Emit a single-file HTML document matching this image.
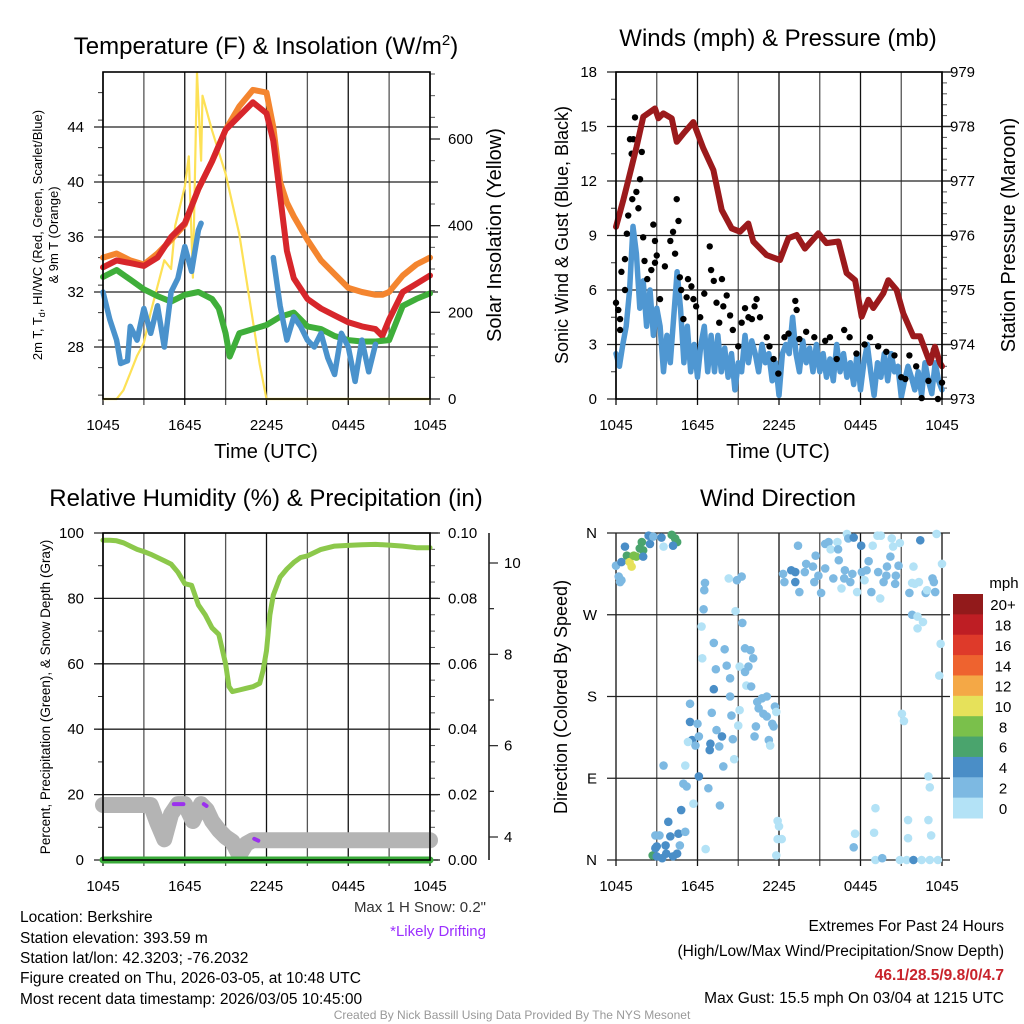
<!DOCTYPE html>
<html><head><meta charset="utf-8"><style>
html,body{margin:0;padding:0;background:#fff}
svg{display:block;font-family:"Liberation Sans",Arial,sans-serif}
</style></head><body>
<svg id="fig" width="1024" height="1024" viewBox="0 0 1024 1024" xmlns="http://www.w3.org/2000/svg">
<rect width="1024" height="1024" fill="#fff"/>
<text x="266" y="54" font-size="24" text-anchor="middle">Temperature (F) &amp; Insolation (W/m<tspan dy="-9" font-size="15">2</tspan><tspan dy="9">)</tspan></text>
<text x="778" y="46" font-size="24" text-anchor="middle">Winds (mph) &amp; Pressure (mb)</text>
<text x="266" y="506" font-size="24" text-anchor="middle">Relative Humidity (%) &amp; Precipitation (in)</text>
<text x="778" y="506" font-size="24" text-anchor="middle">Wind Direction</text>

<text transform="translate(42,235) rotate(-90)" font-size="13" text-anchor="middle">2m T, T<tspan font-size="9" dy="3">d</tspan><tspan dy="-3">, HI/WC (Red, Green, Scarlet/Blue)</tspan></text>
<text transform="translate(58,235) rotate(-90)" font-size="13" text-anchor="middle">&amp; 9m T (Orange)</text>
<text transform="translate(501,235) rotate(-90)" font-size="20" text-anchor="middle">Solar Insolation (Yellow)</text>
<text x="266" y="458" font-size="20" text-anchor="middle">Time (UTC)</text>

<text transform="translate(568,235) rotate(-90)" font-size="18" text-anchor="middle">Sonic Wind &amp; Gust (Blue, Black)</text>
<text transform="translate(1015,235) rotate(-90)" font-size="20" text-anchor="middle">Station Pressure (Maroon)</text>
<text x="778" y="458" font-size="20" text-anchor="middle">Time (UTC)</text>

<text transform="translate(50,697) rotate(-90)" font-size="13.5" text-anchor="middle">Percent, Precipitation (Green), &amp; Snow Depth (Gray)</text>
<text transform="translate(567,697) rotate(-90)" font-size="18" text-anchor="middle">Direction (Colored By Speed)</text>
<text x="1004" y="588" font-size="15" text-anchor="middle">mph</text>

<text x="486" y="912" font-size="15" text-anchor="end" fill="#333">Max 1 H Snow: 0.2"</text>
<text x="486" y="936" font-size="15" text-anchor="end" fill="#9b30ff">*Likely Drifting</text>
<g font-size="15.5">
<text x="20" y="922">Location: Berkshire</text>
<text x="20" y="943">Station elevation: 393.59 m</text>
<text x="20" y="963">Station lat/lon: 42.3203; -76.2032</text>
<text x="20" y="983">Figure created on Thu, 2026-03-05, at 10:48 UTC</text>
<text x="20" y="1004">Most recent data timestamp: 2026/03/05 10:45:00</text>
</g>
<g font-size="15.5" text-anchor="end">
<text x="1004" y="931">Extremes For Past 24 Hours</text>
<text x="1004" y="956">(High/Low/Max Wind/Precipitation/Snow Depth)</text>
<text x="1004" y="980" fill="#c8232b" font-weight="bold">46.1/28.5/9.8/0/4.7</text>
<text x="1004" y="1003">Max Gust: 15.5 mph On 03/04 at 1215 UTC</text>
</g>
<text x="512" y="1019" font-size="12" text-anchor="middle" fill="#999">Created By Nick Bassill Using Data Provided By The NYS Mesonet</text>
</svg>
<script>
// ---------- data ----------
const timeLabels = ["1045","1645","2245","0445","1045"];
const tempHours = [0,1,2,3,4,5,6,7,8,9,10,11,12,12.5,13,13.5,14,15,16,17,18,19,20,20.5,21,22,23,24];
const redT =    [33.8,34.3,34.1,33.9,34.5,36.0,37.0,39.5,41.5,43.8,44.8,45.8,45.0,43.0,39.0,35.0,33.0,31.5,30.8,30.3,29.8,29.5,29.3,28.8,30.0,32.0,32.6,33.2];
const orangeT = [34.5,34.8,34.3,34.0,34.8,35.8,36.9,39.5,41.5,43.8,45.5,46.7,46.5,44.0,40.0,38.5,37.5,35.8,34.3,33.3,32.3,32.0,31.8,31.8,32.0,33.2,34.0,34.5];
const greenHours = [0,1,2,3,4,5,6,7,8,8.5,9,9.3,10,11,12,13,14,15,16,17,18,19,20,21,22,23,24];
const greenTd = [33.1,33.6,32.9,32.2,31.7,31.3,31.8,32.0,31.5,30.8,29.0,27.3,29.0,29.3,29.6,30.2,30.5,29.5,29.3,28.8,28.5,28.4,28.4,28.5,31.0,31.5,31.9];
const blueHours = [0,0.5,1,1.3,1.8,2,2.5,3,3.5,4,4.5,5,5.5,6,6.5,7,7.2,7.3,12.4,12.5,13,13.5,14,14.5,15,15.5,16,16.5,17,17.5,18,18.5,19,19.5,20];
const blueWC =  [32,30,28.5,26.8,27,29.5,28.5,30.8,29,31,28,32,33,35.3,33.5,36.5,37,null,null,34.5,31,28.5,30.2,29.5,28.5,28,29,27.2,26,29,28,25.5,28.5,26.2,28.2];
const solHours = [0,1,1.5,2,2.5,3,3.5,4,4.5,5,5.3,6,6.3,6.6,6.9,7.2,7.3,8,9,10,11,11.5,12,24];
const solVals =  [0,0,20,60,100,130,200,260,320,300,400,490,560,280,754,550,700,620,520,380,180,80,0,0];

const presHours = [0,0.54,1.03,1.52,2.01,2.87,3.12,3.48,4.1,4.47,4.96,5.69,6.43,7.17,7.78,8.52,9.13,9.74,10.11,11.09,12.07,12.69,13.3,13.91,14.9,15.5,16.37,16.98,17.6,18.09,18.58,18.94,19.68,20.05,20.66,21.15,21.89,22.38,23.12,23.48,23.85,24];
const presVals =  [976.16,976.65,977.14,977.63,978.18,978.33,978.15,978.24,978.15,977.72,977.87,978.08,977.6,977.2,976.47,976.13,976.07,976.22,975.89,975.64,975.55,975.95,976.01,975.76,976.04,975.86,975.89,975.31,975.18,974.51,974.82,974.67,974.94,975.18,975.0,974.57,974.15,974.15,973.66,973.96,973.66,973.6];
const windVals = [2.5,1.8,3,4,6,9.5,8,5,6.5,4,6,3.5,5,4,1.5,3.5,2,4.5,7,5,2,4,1.5,3,1.2,3,4,1.5,3.5,1.5,3.5,1.5,2.8,1.2,2.5,0.5,2,1.5,3.5,2,3.2,2.5,1.5,3,2,2.5,1,2,0.2,2.5,3,2.5,4.5,2.5,1.5,3.2,2,2.8,1.5,3,1.5,2.5,1.2,2.2,1,3,1.5,2.5,1.2,2,0.8,2.5,0.5,2,3,1.5,0.2,2,1.2,2.5,1,2.5,1.5,1.8,0.1,1,1.8,1.2,0.5,1.5,0.2,2,1,0.3,2,1,0.5];
const gustHours = [0,0.17,0.3,0.3,0.4,0.66,0.66,0.8,0.9,1.03,1.15,1.28,1.2,1.4,1.5,1.65,1.77,1.9,2.0,2.1,2.3,2.6,2.75,2.87,2.87,3.0,3.24,3.6,4.0,4.2,4.35,4.47,4.6,4.7,4.8,4.96,5.2,5.3,5.55,5.7,5.9,6.2,6.5,6.9,7.0,7.2,7.4,7.6,7.8,7.9,8.15,8.4,8.6,9.0,9.25,9.5,9.75,10,10.2,10.35,10.6,11.1,11.3,11.6,11.95,12.4,12.7,13.2,13.3,13.5,14,14.6,15.4,15.75,16.25,16.8,17.2,17.7,18.3,18.7,19.3,19.9,20.5,21,21.3,21.6,22.1,22.5,23,23.4,23.7,24];
const gustVals = [5.3,4.9,4.4,3.8,7.0,6.0,7.7,9.1,10.1,14.3,13.5,14.3,11.0,15.5,11.4,10.5,12.1,13.6,8.9,7.6,6.6,7.1,9.6,8.7,7.5,7.9,5.5,7.3,8.7,9.2,8.0,11.0,9.8,6.7,6.0,4.4,5.6,6.6,6.2,5.5,5.1,4.5,5.8,8.4,7.1,6.5,5.3,4.2,6.6,5.1,5.7,4.6,3.8,2.9,4.2,5.0,4.5,4.4,5.1,5.5,4.5,3.4,2.9,2.2,1.4,3.4,3.6,5.4,4.9,3.3,3.7,3.4,3.2,3.4,2.2,3.8,3.4,2.5,3.0,3.4,2.9,2.6,2.4,1.2,1.1,2.4,1.8,0.05,1.0,2.7,0.0,0.9];

const rhHours = [0,0.5,1,1.5,2,2.5,3,3.5,4,4.5,5,5.5,6,6.5,7,7.5,8,8.5,9,9.25,9.5,10,10.5,11,11.5,11.75,12,12.25,12.5,13,13.5,14,14.5,15,15.5,16,17,18,19,20,21,22,23,24];
const rhVals =  [97.8,97.8,97.6,97,96,95,94.3,93.5,92.5,91.5,90.5,88,84.5,84,78,75,71,69,60,53,51.5,52,52.5,53,54,58,64,75,81,86.5,89,91,92.5,93,94,95,96,96.2,96.4,96.5,96.3,96,95.5,95.5];
const snowHours = [0,3.5,4.0,4.5,5.0,5.5,6.0,6.6,7.2,7.6,8.0,8.5,9.0,9.5,10.0,10.5,11.0,24];
const snowVals =  [4.7,4.7,4.3,3.95,4.5,4.72,4.72,4.35,4.72,4.6,4.35,4.15,4.0,3.9,3.6,3.85,3.93,3.93];
const driftHours = [5.2,5.9,7.4,7.6,11.1,11.4];
const driftVals  = [4.72,4.72,4.72,4.68,3.96,3.92];
const precipHours = [0,24];
const precipVals = [0,0];

const dirHours = [0.0,0.2,0.3,0.4,0.4,0.66,0.8,1.0,1.15,1.3,1.5,1.75,1.9,2.0,2.0,2.4,2.5,2.75,3.35,3.5,4.1,4.35,4.5,4.2,
2.7,2.9,3,3,2.9,3.2,3.4,3.65,3.7,4,3.85,4.2,4.5,4.6,4.7,4.8,5.1,5.2,4.96,5.7,3.5,5.1,6.1,6.8,7.65,6.6,
5.45,5.45,5.6,5.85,5.3,6.1,6,6.3,6.45,6.5,6.55,6.35,7.2,7.35,7.2,7.05,7.4,6.95,6.9,7.6,7.8,7.9,8,8.15,8.4,8.4,8.5,8.6,8.7,8.3,8.9,9.25,8.8,9.3,9.5,9.9,9.1,9.5,9.75,9.6,9.95,10.1,9.1,9,10.4,10.5,10.75,11.1,10.85,11.1,11.5,11.6,11.7,11.8,10.3,10.2,11.25,11.35,11.9,12,11.9,12.2,11.8,
12.3,12.4,12.9,13.2,13.2,13.5,13.4,13.9,14,14.5,14.6,14.7,14.9,15.1,15.4,15.4,15.65,15.8,16,16.3,16.35,16.4,16.6,16.8,16.85,17,17.1,17.25,17.4,17.5,17.75,18.05,18.1,18.3,18.45,18.6,18.8,18.9,19.25,19.3,19.45,19.5,19.7,19.9,19.95,20.2,20.3,20.4,20.55,20.6,20.8,20.9,21.6,21.8,21.9,22,22.3,22.4,22.8,22.9,23.3,23.4,23.5,23.6,24,
21.8,22.2,22.2,22.6,23.9,23.8,21.05,21.2,23,23.1,21.5,23,21.5,23.2,19.1,19,17.6,17.5,19.1,19.6,20.9,21.4,21.9,22.5,23.1,23.7];
const dirDegs = [324,312,306,308,328,345,335,328,323,335,334,343,350,341,334,357,348,356,355,345,358,354,350,346,
5,13,4,15,27,27,2,16,7,26,42,4,7,29,16,55,31,81,84,62,104,104,92,79,60,12,
172,152,132,126,130,136,150,257,276,297,305,222,239,210,188,162,143,128,121,125,136,103,232,214,200,180,159,133,111,310,308,312,274,261,233,231,213,207,213,192,191,222,165,148,174,167,178,180,161,158,150,147,169,163,147,136,132,126,43,37,23,23,5,
315,306,319,317,306,295,346,317,326,323,306,335,313,294,321,348,350,342,310,350,342,330,299,310,319,359,354,306,315,355,295,346,317,308,319,329,295,346,357,317,288,357,306,313,323,334,354,345,304,313,324,349,294,305,323,304,306,352,294,297,310,306,295,359,326,
270,268,255,262,238,203,161,153,92,80,44,44,24,27,57,30,29,14,0,2,0,0,0,0,0,0];
const dirSpeeds = [3,3,3,3,5,5,7,11,11,9,9,7,7,7,5,5,5,3,5,1,7,7,7,5,
7,5,5,5,3,3,5,5,5,5,5,5,5,5,3,5,3,3,3,1,3,1,5,3,3,1,
3,5,5,3,1,3,3,1,3,3,3,1,3,3,5,3,3,5,5,3,5,3,3,3,3,3,3,3,1,1,3,3,1,3,3,3,1,3,3,1,3,3,1,1,3,3,3,3,3,3,3,3,3,1,3,3,3,1,1,1,1,1,1,
3,3,5,5,5,3,3,3,3,3,3,3,3,3,3,3,3,1,3,1,3,3,1,3,3,1,3,3,3,5,1,5,3,1,3,3,3,1,1,3,1,1,3,3,3,3,1,1,3,3,3,1,3,1,1,1,1,5,3,1,3,3,3,1,1,
3,1,1,1,1,1,1,1,1,1,1,1,1,1,1,1,1,3,1,3,1,1,5,1,1,1];
const speedBins = ["0","2","4","6","8","10","12","14","16","18","20+"];
const binColors = ["#b3e2f6","#7db9e2","#4a8ec7","#4aa46d","#7ac04b","#e6e15a","#f4a846","#ee632f","#de3a2a","#be1e24","#921a1b"];

const tempTicks = [28,32,36,40,44];
const solTicks = [0,200,400,600];
const windTicks = [0,3,6,9,12,15,18];
const presTicks = [973,974,975,976,977,978,979];
const rhTicks = [0,20,40,60,80,100];
const precipTicks = ["0.00","0.02","0.04","0.06","0.08","0.10"];
const snowTicks = [4,6,8,10];
const dirTicks = [0,90,180,270,360];
const dirLabels = ["N","E","S","W","N"];

// ---------- helpers ----------
const svg = document.getElementById('fig');
const NS = 'http://www.w3.org/2000/svg';
function mk(tag, attrs, parent){const e=document.createElementNS(NS,tag);for(const k in attrs)e.setAttribute(k,attrs[k]);(parent||svg).appendChild(e);return e;}
const P = {
  tl:{x0:103,x1:430,y0:72,y1:399},
  tr:{x0:616,x1:942,y0:72,y1:399},
  bl:{x0:103,x1:430,y0:533,y1:860},
  br:{x0:616,x1:942,y0:533,y1:860}
};
function xOf(p,h){return p.x0+h/24*(p.x1-p.x0);}
function lin(d0,d1,r0,r1){return v=>r0+(v-d0)/(d1-d0)*(r1-r0);}
const yTemp = lin(44,28,127,347);
const ySol = lin(0,600,399,139);
const yWind = lin(0,18,399,72);
const yPres = lin(973,979,399,72);
const yRH = lin(0,100,860,533);
const yPrecip = lin(0,0.1,860,533);
const ySnow = lin(4,10,837,563);
const yDir = lin(0,360,860,533);

function pathOf(p,hs,vs,ys){let d='',pen=false;for(let i=0;i<hs.length;i++){if(vs[i]===null){pen=false;continue;}d+=(pen?'L':'M')+xOf(p,hs[i]).toFixed(1)+','+ys(vs[i]).toFixed(1);pen=true;}return d;}

function frame(key,name){
  const p=P[key];
  const g=mk('g',{});
  
  
  for(let i=0;i<=8;i++){
    const x=xOf(p,i*3);
    const l=mk('line',{x1:x,y1:p.y0,x2:x,y2:p.y1+6,stroke:(i%2?'#555':'#111'),'stroke-width':1.3},g);
    
    
  }
  timeLabels.forEach((t,i)=>{
    const tx=mk('text',{x:xOf(p,i*6),y:p.y1+31,'font-size':15,'text-anchor':'middle'},g);
    tx.textContent=t;
    
    
  });
  return g;
}
function hgrid(key,name,ys,ticks,labels,minorStep,lo,hi){
  const p=P[key];
  const g=mk('g',{});
  
  
  for(let v=lo; v<=hi+1e-9; v+=minorStep){
    const y=ys(v);
    const m=mk('line',{x1:p.x0-5,y1:y,x2:p.x0,y2:y,stroke:'#333','stroke-width':1},g);
    
    
  }
  ticks.forEach((v,i)=>{
    const y=ys(v);
    const l=mk('line',{x1:p.x0-9,y1:y,x2:p.x1+8,y2:y,stroke:'#222','stroke-width':1.3},g);
    
    
    const t=mk('text',{x:p.x0-19,y:y+5,'font-size':15,'text-anchor':'end'},g);
    t.textContent=labels?labels[i]:v;
    
    
  });
}
function rightAxis(key,name,ys,ticks,labels,minorStep,lo,hi,x){
  const p=P[key];
  const g=mk('g',{});
  
  
  for(let v=lo; v<=hi+1e-9; v+=minorStep){
    const y=ys(v);
    const m=mk('line',{x1:p.x1,y1:y,x2:p.x1+5,y2:y,stroke:'#555','stroke-width':1},g);
    
    
  }
  ticks.forEach((v,i)=>{
    const y=ys(v);
    const l=mk('line',{x1:p.x1,y1:y,x2:p.x1+10,y2:y,stroke:'#222','stroke-width':1.3},g);
    
    
    const t=mk('text',{x:x,y:y+5,'font-size':15},g);
    t.textContent=labels?labels[i]:v;
    
    
  });
}
function border(key,name){
  const p=P[key];
  const r=mk('rect',{x:p.x0,y:p.y0,width:p.x1-p.x0,height:p.y1-p.y0,fill:'none',stroke:'#000','stroke-width':1.6});
  
  
}

// ---------- temperature panel ----------
frame('tl','temperature');
hgrid('tl','temperature',yTemp,tempTicks,null,2,24.5,48);
rightAxis('tl','insolation',ySol,solTicks,null,50,0,750,448);
let e;
e=mk('path',{d:pathOf(P.tl,solHours,solVals,ySol),fill:'none',stroke:'#fde156','stroke-width':2.2,'stroke-linejoin':'round'});


e=mk('path',{d:pathOf(P.tl,tempHours,orangeT,yTemp),fill:'none',stroke:'#f4852f','stroke-width':6,'stroke-linejoin':'round','stroke-linecap':'round'});


e=mk('path',{d:pathOf(P.tl,tempHours,redT,yTemp),fill:'none',stroke:'#d7262b','stroke-width':6,'stroke-linejoin':'round','stroke-linecap':'round'});


e=mk('path',{d:pathOf(P.tl,greenHours,greenTd,yTemp),fill:'none',stroke:'#3fae3a','stroke-width':6,'stroke-linejoin':'round','stroke-linecap':'round'});


e=mk('path',{d:pathOf(P.tl,blueHours,blueWC,yTemp),fill:'none',stroke:'#4a92cc','stroke-width':5.5,'stroke-linejoin':'round','stroke-linecap':'round'});


border('tl','temperature');

// ---------- wind panel ----------
frame('tr','wind');
hgrid('tr','wind',yWind,windTicks,null,1.5,0,18);
rightAxis('tr','pressure',yPres,presTicks,null,0.2,973,979,950);
const windHours = windVals.map((v,i)=>i*0.25);
e=mk('path',{d:pathOf(P.tr,windHours,windVals,yWind),fill:'none',stroke:'#4f97d2','stroke-width':5.5,'stroke-linejoin':'round','stroke-linecap':'round'});


const gg=mk('g',{});


gustHours.forEach((h,i)=>{
  const c=mk('circle',{cx:xOf(P.tr,h),cy:yWind(gustVals[i]),r:3.2,fill:'#000'},gg);
  
  
});
e=mk('path',{d:pathOf(P.tr,presHours,presVals,yPres),fill:'none',stroke:'#9b1a1c','stroke-width':6,'stroke-linejoin':'round','stroke-linecap':'round'});


border('tr','wind');

// ---------- humidity panel ----------
frame('bl','humidity');
hgrid('bl','humidity',yRH,rhTicks,null,10,0,100);
rightAxis('bl','precip',yPrecip,[0,0.02,0.04,0.06,0.08,0.1],precipTicks,0.005,0,0.1,448);
e=mk('line',{x1:489,y1:533,x2:489,y2:860,stroke:'#222','stroke-width':1.6});


for(let v=4; v<=10; v+=1){
  e=mk('line',{x1:489,y1:ySnow(v),x2:(v%2?494:498),y2:ySnow(v),stroke:'#222','stroke-width':1.2});
  
  
}
snowTicks.forEach(v=>{
  const t=mk('text',{x:504,y:ySnow(v)+5,'font-size':15});
  t.textContent=v;
  
  
});
e=mk('path',{d:pathOf(P.bl,snowHours,snowVals,ySnow),fill:'none',stroke:'#b4b4b4','stroke-width':16,'stroke-linejoin':'round','stroke-linecap':'round'});


for(let i=0;i<driftHours.length;i+=2){
  e=mk('line',{x1:xOf(P.bl,driftHours[i]),y1:ySnow(driftVals[i]),x2:xOf(P.bl,driftHours[i+1]),y2:ySnow(driftVals[i+1]),stroke:'#9b30ee','stroke-width':4,'stroke-linecap':'round'});
  
  
}
e=mk('path',{d:pathOf(P.bl,rhHours,rhVals,yRH),fill:'none',stroke:'#8cc84b','stroke-width':5,'stroke-linejoin':'round','stroke-linecap':'round'});


e=mk('path',{d:pathOf(P.bl,precipHours,precipVals,yPrecip),fill:'none',stroke:'#3aaa3a','stroke-width':7,'stroke-linecap':'round'});


border('bl','humidity');

// ---------- wind direction panel ----------
frame('br','direction');
hgrid('br','direction',yDir,dirTicks,dirLabels,1000,0,0);
const dg=mk('g',{});


dirHours.forEach((h,i)=>{
  const b=Math.min(10,Math.floor(dirSpeeds[i]/2));
  const c=mk('circle',{cx:xOf(P.br,h),cy:yDir(dirDegs[i]),r:4.3,fill:binColors[b]},dg);
  
  
});
const cb=mk('g',{});


const cbTop=594, cbH=224/11;
speedBins.forEach((lab,i)=>{
  const k=10-i;
  const y=cbTop+i*cbH;
  const r=mk('rect',{x:953,y:y,width:30,height:cbH+0.5,fill:binColors[k]},cb);
  
  
  const t=mk('text',{x:1003,y:y+cbH/2+6,'font-size':15,'text-anchor':'middle'},cb);
  t.textContent=speedBins[k];
  
  
});
</script>
</body></html>
